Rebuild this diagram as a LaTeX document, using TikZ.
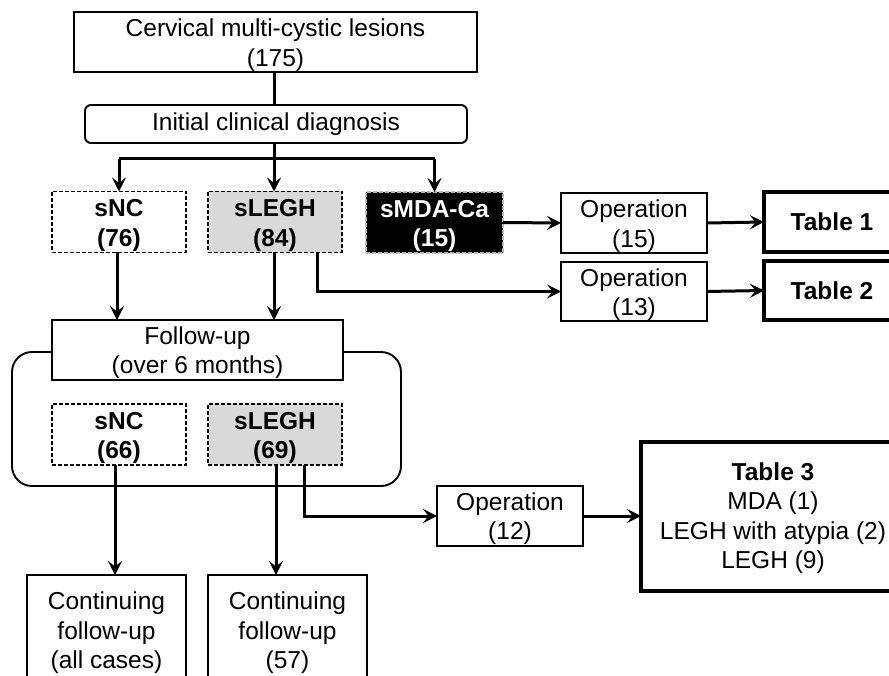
\documentclass[tikz,border=0pt]{standalone}
\usepackage{fontspec}
\setmainfont{Liberation Sans}
\usetikzlibrary{arrows.meta}
\definecolor{lgray}{HTML}{D9D9D9}
\newcommand\lowtxt[2][3.5pt]{\raisebox{-#1}[\height][\depth]{\begin{tabular}{@{}c@{}}#2\end{tabular}}}
\begin{document}
\begin{tikzpicture}[x=1pt,y=-1pt,
  every node/.style={font=\fontsize{24.5}{29.5}\selectfont, align=center, inner sep=0pt, outer sep=0pt},
  box/.style={draw, line width=1.9pt, fill=white, minimum width=#1},
  box/.default=146pt,
  dbox/.style={draw, line width=1.6pt, dash pattern=on 4pt off 2pt, minimum width=134pt, minimum height=61pt, font=\fontsize{24.5}{29.5}\selectfont\bfseries},
  tbox/.style={draw, line width=4pt, fill=white},
  conn/.style={line width=3pt},
  arr/.style={line width=3pt, -{Stealth[length=14pt,width=14pt,inset=5.5pt]}}
]
\useasboundingbox (0,0) rectangle (889,676);
\clip (0,0) rectangle (889,676);

% container
\draw[line width=1.9pt, rounded corners=20pt] (12,352) rectangle (401,486);

\node[box=403pt, minimum height=60pt] (top) at (275.5,42) {\lowtxt{Cervical multi-cystic lesions\\(175)}};
\node[draw, line width=1.9pt, rounded corners=6pt, minimum width=382pt, minimum height=38pt] (init) at (276,124) {Initial clinical diagnosis};

\node[dbox] (snc1) at (119,222) {\lowtxt{sNC\\(76)}};
\node[dbox, fill=lgray] (slegh1) at (275,222) {\lowtxt{sLEGH\\(84)}};
\node[dbox, fill=black, text=white, draw=gray!55, minimum width=137pt] (smda) at (434.5,222.5) {\lowtxt{sMDA-Ca\\(15)}};

\node[box, minimum height=60pt] (op15) at (634,223) {\lowtxt{Operation\\(15)}};
\node[box, minimum height=59pt] (op13) at (634,291.5) {\lowtxt{Operation\\(13)}};
\node[tbox, minimum width=136pt, minimum height=60pt] (t1) at (832,222) {\textbf{Table 1}};
\node[tbox, minimum width=136pt, minimum height=59pt] (t2) at (832,290.5) {\textbf{Table 2}};

\node[box=291pt, minimum height=60pt] (fu) at (197.5,350) {\lowtxt[3pt]{Follow-up\\(over 6 months)}};

\node[dbox] (snc2) at (119,434.5) {\lowtxt{sNC\\(66)}};
\node[dbox, fill=lgray] (slegh2) at (275,434.5) {\lowtxt{sLEGH\\(69)}};

\node[box, minimum height=60pt] (op12) at (510,516) {\lowtxt[3pt]{Operation\\(12)}};
\node[tbox, minimum width=264pt, minimum height=149pt] (t3) at (773,516.5) {\lowtxt[2pt]{\textbf{Table 3}\\MDA (1)\\LEGH with atypia (2)\\LEGH (9)}};

\node[box=159pt, minimum height=116pt] (c1) at (106.5,633) {Continuing\\follow-up\\(all cases)};
\node[box=159pt, minimum height=116pt] (c2) at (287.5,633) {Continuing\\follow-up\\(57)};

% connectors
\coordinate (j) at (274,159);
\draw[conn] (top.south -| j) -- (init.north -| j);
\draw[conn] (init.south -| j) -- (j);
\draw[conn] (snc1.north |- j) -- (smda.north |- j);
\draw[arr] (snc1.north |- j) -- (snc1.north);
\draw[arr] (j) -- (j |- slegh1.north);
\draw[arr] (smda.north |- j) -- (smda.north);

\draw[arr] ([xshift=-2pt]snc1.south) -- ([xshift=-2pt]snc1.south |- fu.north);
\draw[arr] ([xshift=-1pt]slegh1.south) -- ([xshift=-1pt]slegh1.south |- fu.north);
\draw[arr] ([xshift=42pt]slegh1.south) |- (op13.west);
\draw[arr] (smda.east) -- (op15.west);
\draw[arr] (op15.east) -- (t1.west);
\draw[arr] (op13.east) -- (t2.west);

\draw[arr] ([xshift=-4pt]snc2.south) -- ([xshift=-4pt]snc2.south |- c1.north);
\draw[arr] ([xshift=1pt]slegh2.south) -- ([xshift=1pt]slegh2.south |- c2.north);
\draw[arr] ([xshift=29pt]slegh2.south) |- (op12.west);
\draw[arr] (op12.east) -- (op12.east -| t3.west);
\end{tikzpicture}
\end{document}
